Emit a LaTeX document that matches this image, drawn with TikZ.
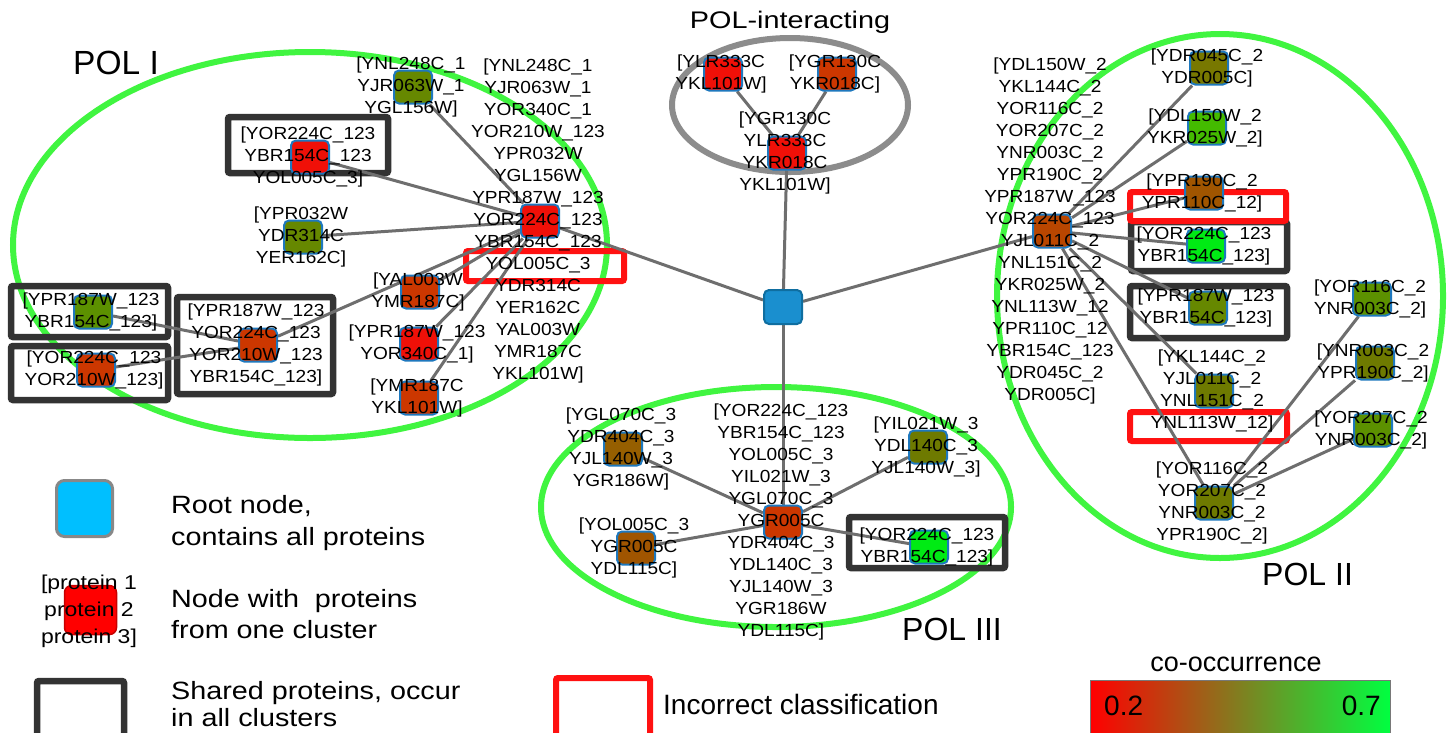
\documentclass[tikz,border=0pt]{standalone}
\usepackage{fontspec}
\setmainfont{Liberation Sans}
\newfontfamily\labf[FakeStretch=1.09]{Liberation Sans}
\newfontfamily\legf[FakeStretch=1.15]{Liberation Sans}
\newfontfamily\titf[FakeStretch=1.2]{Liberation Sans}
\pgfdeclarelayer{back}
\pgfdeclarelayer{edges}
\pgfsetlayers{back,edges,main}
\definecolor{grpG}{RGB}{64,245,64}
\definecolor{grpGrey}{RGB}{140,140,140}
\definecolor{edgeC}{RGB}{110,110,110}
\definecolor{boxC}{RGB}{51,51,51}
\definecolor{redB}{RGB}{255,17,17}
\definecolor{nodeB}{RGB}{30,120,190}
\definecolor{cRed}{RGB}{240,16,8}
\definecolor{cOR}{RGB}{204,55,0}
\definecolor{cBrown}{RGB}{160,85,0}
\definecolor{cBrownB}{RGB}{150,95,0}
\definecolor{cOBr}{RGB}{185,70,0}
\definecolor{cOlive}{RGB}{110,122,0}
\definecolor{cOliveY}{RGB}{120,120,0}
\definecolor{cOliveG}{RGB}{102,136,0}
\definecolor{cGreenO}{RGB}{92,145,0}
\definecolor{cLG}{RGB}{68,187,0}
\definecolor{cBG}{RGB}{0,235,20}
\definecolor{rootF}{RGB}{26,143,207}
\definecolor{rootB}{RGB}{15,110,160}
\definecolor{legRoot}{RGB}{0,191,255}
\definecolor{legRootB}{RGB}{136,136,136}
\definecolor{legRedB}{RGB}{200,0,0}
\definecolor{legRed}{RGB}{255,0,0}
\definecolor{barL}{RGB}{255,0,0}
\definecolor{barMid}{RGB}{138,118,16}
\definecolor{barR}{RGB}{0,255,64}
\definecolor{barB}{RGB}{120,120,120}
\tikzset{
  sq/.style={draw=nodeB, line width=2pt, rounded corners=5pt, minimum width=38pt, minimum height=33pt, inner sep=0pt, fill=#1},
  lab/.style={font=\labf\fontsize{17.5}{22}\selectfont, align=center, inner sep=0pt, text=black},
  edge/.style={draw=edgeC, line width=3pt},
  grp/.style={draw=grpG, line width=6pt},
  sbox/.style={draw=boxC, line width=6.5pt, rounded corners=2pt},
  rbox/.style={draw=redB, line width=6pt, rounded corners=2pt},
  legt/.style={font=\legf\fontsize{25}{30}\selectfont, inner sep=0pt, anchor=base west},
  ttl/.style={font=\fontsize{32}{36}\selectfont, inner sep=0pt, anchor=base west}
}
\newcommand\protnode[5]{%
  \node[sq=#4] (#1) at (#2,#3) {};
  \node[lab] (#1l) at ([xshift=-2pt]#1.center) {#5};
}
\begin{document}
\begin{tikzpicture}[x=1pt,y=-1pt]
\useasboundingbox (0,0) rectangle (1450,732);

% ---------- root ----------
\node[draw=rootB, line width=2pt, fill=rootF, rounded corners=5pt, minimum width=38pt, minimum height=34pt, inner sep=0pt] (root) at (783,307) {};

% ---------- POL I ----------
\protnode{p1c}{540}{221}{cRed}{[YNL248C\_1\\YJR063W\_1\\YOR340C\_1\\YOR210W\_123\\YPR032W\\YGL156W\\YPR187W\_123\\YOR224C\_123\\YBR154C\_123\\YOL005C\_3\\YDR314C\\YER162C\\YAL003W\\YMR187C\\YKL101W]}
\protnode{p1a}{413}{87}{cOliveG}{[YNL248C\_1\\YJR063W\_1\\YGL156W]}
\protnode{p1b}{310}{157}{cRed}{[YOR224C\_123\\YBR154C\_123\\YOL005C\_3]}
\protnode{p1d}{303}{237}{cOliveG}{[YPR032W\\YDR314C\\YER162C]}
\protnode{p1e}{258}{345}{cOR}{[YPR187W\_123\\YOR224C\_123\\YOR210W\_123\\YBR154C\_123]}
\protnode{p1f}{93}{312}{cGreenO}{[YPR187W\_123\\YBR154C\_123]}
\protnode{p1g}{96}{370}{cOR}{[YOR224C\_123\\YOR210W\_123]}
\protnode{p1h}{420}{292}{cOR}{[YAL003W\\YMR187C]}
\protnode{p1i}{419}{344}{cRed}{[YPR187W\_123\\YOR340C\_1]}
\protnode{p1j}{419}{398}{cOR}{[YMR187C\\YKL101W]}
\node[font=\fontsize{33.5}{38}\selectfont, inner sep=0pt, anchor=base west] (t1) at (73,74) {POL I};

% ---------- POL-interacting ----------
\protnode{ik}{723}{74}{cRed}{[YLR333C\\YKL101W]}
\protnode{il}{837}{74}{cOR}{[YGR130C\\YKR018C]}
\protnode{im}{787}{153}{cRed}{[YGR130C\\YLR333C\\YKR018C\\YKL101W]}
\node[font=\titf\fontsize{24}{28}\selectfont, inner sep=0pt, anchor=base] (ti) at (790,28) {POL-interacting};

% ---------- POL II ----------
\protnode{p2c}{1052}{231}{cOBr}{[YDL150W\_2\\YKL144C\_2\\YOR116C\_2\\YOR207C\_2\\YNR003C\_2\\YPR190C\_2\\YPR187W\_123\\YOR224C\_123\\YJL011C\_2\\YNL151C\_2\\YKR025W\_2\\YNL113W\_12\\YPR110C\_12\\YBR154C\_123\\YDR045C\_2\\YDR005C]}
\protnode{p2o}{1209}{68}{cOliveY}{[YDR045C\_2\\YDR005C]}
\protnode{p2p}{1207}{128}{cLG}{[YDL150W\_2\\YKR025W\_2]}
\protnode{p2q}{1204}{193}{cBrown}{[YPR190C\_2\\YPR110C\_12]}
\protnode{p2r}{1206}{246}{cBG}{[YOR224C\_123\\YBR154C\_123]}
\protnode{p2s}{1208}{308}{cOliveG}{[YPR187W\_123\\YBR154C\_123]}
\protnode{p2t}{1214}{391}{cOlive}{[YKL144C\_2\\YJL011C\_2\\YNL151C\_2\\YNL113W\_12]}
\protnode{p2u}{1372}{299}{cGreenO}{[YOR116C\_2\\YNR003C\_2]}
\protnode{p2v}{1375}{363}{cOlive}{[YNR003C\_2\\YPR190C\_2]}
\protnode{p2w}{1373}{430}{cGreenO}{[YOR207C\_2\\YNR003C\_2]}
\protnode{p2x}{1214}{503}{cOlive}{[YOR116C\_2\\YOR207C\_2\\YNR003C\_2\\YPR190C\_2]}
\node[ttl] (t2) at (1262,585) {POL II};

% ---------- POL III ----------
\protnode{p3c}{783}{522}{cOR}{[YOR224C\_123\\YBR154C\_123\\YOL005C\_3\\YIL021W\_3\\YGL070C\_3\\YGR005C\\YDR404C\_3\\YDL140C\_3\\YJL140W\_3\\YGR186W\\YDL115C]}
\protnode{p3a}{623}{449}{cBrownB}{[YGL070C\_3\\YDR404C\_3\\YJL140W\_3\\YGR186W]}
\protnode{p3b}{636}{548}{cBrown}{[YOL005C\_3\\YGR005C\\YDL115C]}
\protnode{p3d}{928}{447}{cOlive}{[YIL021W\_3\\YDL140C\_3\\YJL140W\_3]}
\protnode{p3e}{929}{547}{cBG}{[YOR224C\_123\\YBR154C\_123]}
\node[ttl] (t3) at (902,640) {POL III};

% ---------- groups and boxes ----------
\begin{pgfonlayer}{back}
  \fill[white] (0,0) rectangle (1450,732);
  \draw[grp] (310,245) ellipse [x radius=297pt, y radius=193pt];
  \draw[draw=grpGrey, line width=6pt] (790,105) ellipse [x radius=118pt, y radius=67pt];
  \draw[grp] (1220,296) ellipse [x radius=223pt, y radius=262pt];
  \draw[grp] (776,507) ellipse [x radius=235pt, y radius=120pt];
  \draw[sbox] (228,117) rectangle (388,173);
  \draw[sbox] (11,286) rectangle (168,337);
  \draw[sbox] (11,346) rectangle (168,400);
  \draw[sbox] (177,297) rectangle (333,394);
  \draw[sbox] (1131,222) rectangle (1287,271);
  \draw[sbox] (1130,286) rectangle (1287,338);
  \draw[sbox] (849,517) rectangle (1005,568);
  \draw[rbox] (466,251) rectangle (624,281);
  \draw[rbox] (1130,192) rectangle (1286,221);
  \draw[rbox] (1130,412) rectangle (1287,441);
\end{pgfonlayer}

% ---------- edges ----------
\begin{pgfonlayer}{edges}
  \draw[edge] (p1c) -- (root);
  \draw[edge] (im) -- (root);
  \draw[edge] (p2c) -- (root);
  \draw[edge] (p3c) -- (root);
  \foreach \n in {p1a,p1b,p1d,p1e,p1h,p1i,p1j} \draw[edge] (p1c) -- (\n);
  \draw[edge] (p1e) -- (p1f);
  \draw[edge] (p1e) -- (p1g);
  \draw[edge] (im) -- (ik);
  \draw[edge] (im) -- (il);
  \foreach \n in {p2o,p2p,p2q,p2r,p2s,p2t,p2x} \draw[edge] (p2c) -- (\n);
  \foreach \n in {p2u,p2v,p2w} \draw[edge] (p2x) -- (\n);
  \foreach \n in {p3a,p3b,p3d,p3e} \draw[edge] (p3c) -- (\n);
\end{pgfonlayer}

% ---------- legend ----------
\node[draw=legRootB, line width=3pt, fill=legRoot, rounded corners=8pt, minimum width=56pt, minimum height=56pt, inner sep=0pt] (lroot) at (84.5,508.5) {};
\node[legt] (lroot1) at (171,513) {Root node,};
\node[legt] (lroot2) at (171,545) {contains all proteins};
\node[draw=legRedB, line width=1.5pt, fill=legRed, rounded corners=7pt, minimum width=52pt, minimum height=49pt, inner sep=0pt] (lred) at (90.5,610) {};
\node[font=\legf\fontsize{20}{27}\selectfont, align=center, inner sep=0pt] (lredl) at (89,611) {[protein 1\\protein 2\\protein 3]};
\node[legt] (lred1) at (171,607) {Node with\ \ proteins};
\node[legt] (lred2) at (171,638) {from one cluster};
\draw[sbox] (37,681) rectangle (124,745);
\node[legt] (lbox1) at (171,699) {Shared proteins, occur};
\node[legt] (lbox2) at (171,726) {in all clusters};
\draw[rbox] (556,678) rectangle (650,745);
\node[font=\fontsize{28}{32}\selectfont, inner sep=0pt, anchor=base west] (linc) at (663,714) {Incorrect classification};
\node[font=\fontsize{27}{32}\selectfont, inner sep=0pt, anchor=base] (lco) at (1236,671) {co-occurrence};
\node[draw=barB, line width=0.8pt, left color=barL, middle color=barMid, right color=barR, minimum width=300pt, minimum height=60pt, inner sep=0pt, anchor=north west] (cbar) at (1090,680) {};
\node[font=\fontsize{28}{32}\selectfont, inner sep=0pt, anchor=base west] (l02) at (1104,715) {0.2};
\node[font=\fontsize{28}{32}\selectfont, inner sep=0pt, anchor=base east] (l07) at (1381,715) {0.7};
\end{tikzpicture}
\end{document}
